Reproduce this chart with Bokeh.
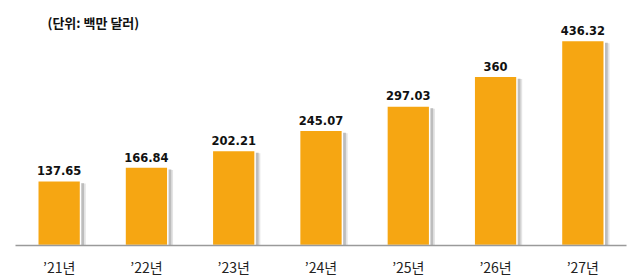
from bokeh.plotting import figure
from bokeh.models import ColumnDataSource, Label, Range1d, FixedTicker
from bokeh.transform import dodge
from bokeh.core.properties import value
from bokeh.embed import file_html
from bokeh.resources import INLINE

years = ["\u201921\ub144", "\u201922\ub144", "\u201923\ub144", "\u201924\ub144",
         "\u201925\ub144", "\u201926\ub144", "\u201927\ub144"]
values = [137.65, 166.84, 202.21, 245.07, 297.03, 360, 436.32]
value_labels = ["137.65", "166.84", "202.21", "245.07", "297.03", "360", "436.32"]
unit_text = "(\ub2e8\uc704: \ubc31\ub9cc \ub2ec\ub7ec)"

xs = list(range(len(years)))
src = ColumnDataSource(dict(x=xs, top=values, lab=value_labels))

p = figure(frame_width=611, frame_height=235, output_backend="svg", toolbar_location=None,
           x_range=Range1d(-0.5, len(years) - 0.5), y_range=Range1d(0, 500),
           min_border_left=15, min_border_right=10, min_border_top=10,
           min_border_bottom=0)
p.outline_line_color = None
p.background_fill_color = "white"
p.border_fill_color = "white"
p.xgrid.visible = False
p.ygrid.visible = False
p.yaxis.visible = False

# soft shadow layers
p.vbar(x=dodge("x", 0.06, range=p.x_range), top=dodge("top", -6), width=0.49, bottom=0,
       source=src, fill_color="#e4e4e4", line_color=None)
p.vbar(x=dodge("x", 0.04, range=p.x_range), top=dodge("top", -5), width=0.49, bottom=0,
       source=src, fill_color="#bdbdbd", line_color=None)
# bars
p.vbar(x="x", top="top", width=0.49, bottom=0, source=src,
       fill_color="#F6A612", line_color="white", line_width=1.5)

p.text(x="x", y="top", text="lab", source=src, text_align="center",
       text_baseline="alphabetic", y_offset=-10,
       text_font=value("DejaVu Sans"), text_font_style="bold",
       text_font_size="11.5px", text_color="#111111")

xa = p.xaxis[0]
xa.ticker = FixedTicker(ticks=xs)
xa.major_label_overrides = {i: y for i, y in enumerate(years)}
xa.major_tick_line_color = None
xa.major_tick_out = 0
xa.major_tick_in = 0
xa.minor_tick_line_color = None
xa.axis_line_color = "#9a9a9a"
xa.axis_line_width = 1.5
xa.major_label_standoff = 11
xa.major_label_text_font = "Noto Sans CJK KR"
xa.major_label_text_font_size = "14px"
xa.major_label_text_color = "#222222"

title = Label(x=32, y=223, x_units="screen", y_units="screen", text=unit_text,
              text_font="Noto Sans CJK KR", text_font_style="bold",
              text_font_size="13px", text_baseline="middle", text_color="#111111")
p.add_layout(title)

open("out.html", "w").write(file_html(p, INLINE))
